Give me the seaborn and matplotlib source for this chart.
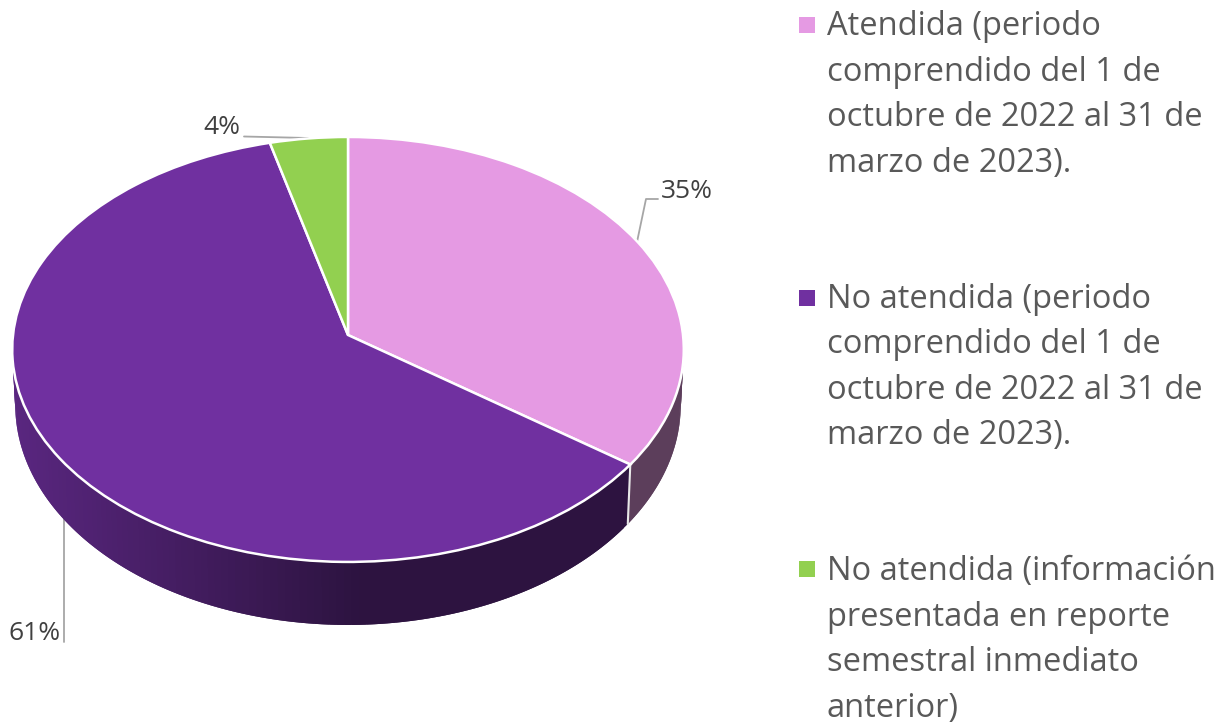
#!/usr/bin/env python
# coding: utf-8

# 3D looking pie: ax.pie for the top, quads for the rim, everything pushed through a small perspective transform
import numpy as np
import seaborn as sns
import matplotlib
matplotlib.use('Agg')
import matplotlib.pyplot as plt
from matplotlib.collections import PolyCollection
from matplotlib.transforms import Transform

# Data
values = [35, 61, 4]
pct_labels = ['35%', '61%', '4%']
legend_labels = [
    'Atendida (periodo\ncomprendido del 1 de\noctubre de 2022 al 31 de\nmarzo de 2023).',
    'No atendida (periodo\ncomprendido del 1 de\noctubre de 2022 al 31 de\nmarzo de 2023).',
    'No atendida (información\npresentada en reporte\nsemestral inmediato\nanterior)',
]
colors = ['#E59AE3', '#7030A0', '#92D050']

sns.set_theme(style='white')
plt.rcParams['font.family'] = ['Open Sans', 'DejaVu Sans']
palette = sns.color_palette(colors)

fig = plt.figure(figsize=(12.3, 7.24), dpi=100)
ax = fig.add_axes([0, 0, 1, 1])


# unit circle -> pixel position, top of the pie and bottom rim use different numbers
class Perspective(Transform):
    input_dims = 2
    output_dims = 2
    is_affine = False
    has_inverse = False

    def __init__(self, b, a, y0, k=0.068, x0=348):
        super().__init__()
        self.b, self.a, self.y0, self.k, self.x0 = b, a, y0, k, x0

    def transform_non_affine(self, values):
        values = np.asarray(values, dtype=float)
        w = 1 + self.k * values[:, 1]
        return np.column_stack([self.x0 + self.b * values[:, 0] / w, self.y0 - self.a * values[:, 1] / w])


top = Perspective(335, 211.5, 335)
bottom = Perspective(332, 219, 390)


def shade(x):
    # rim gets lighter towards the left side of the pie
    return 0.4 + 0.4 * np.clip((360 - x) / 348, 0, 1)


# Top of the pie
wedges, _ = ax.pie(values, colors=palette, startangle=90, counterclock=False,
                   wedgeprops={'edgecolor': 'white', 'linewidth': 1.8, 'zorder': 5})
for w in wedges:
    w.set_transform(top + ax.transData)

ax.set_aspect('auto')
ax.set_xlim(0, 1230)
ax.set_ylim(724, 0)
ax.set_axis_off()

# Rim of the pie, quads overlap their neighbour so no white shows between them
edges = np.cumsum([0] + values) / sum(values) * 2 * np.pi
for i in range(len(values)):
    ang = np.linspace(edges[i], edges[i + 1], int(values[i] * 3) + 3)
    unit = np.column_stack([np.sin(ang), np.cos(ang)])
    up = top.transform_non_affine(unit)
    low = bottom.transform_non_affine(unit)
    polys = []
    cols = []
    for j in range(len(ang) - 1):
        k = min(j + 2, len(ang) - 1)
        polys.append([up[j], up[k], low[k], low[j]])
        f = shade((up[j, 0] + up[j + 1, 0]) / 2)
        cols.append(tuple(np.array(palette[i]) * f))
    ax.add_collection(PolyCollection(polys, facecolors=cols, edgecolors='none', zorder=3))
    # white line where two slices meet on the rim
    if np.cos(edges[i + 1]) < 0 and i < len(values) - 1:
        ax.plot([up[-1, 0], low[-1, 0]], [up[-1, 1], low[-1, 1]], color='#E8E8E8', lw=1.5, zorder=4)

# Leader lines
ax.plot([637, 646, 658], [242, 199, 199], color='#A6A6A6', lw=1.3, zorder=2)
ax.plot([63.5, 63.5], [515, 642], color='#A6A6A6', lw=1.3, zorder=2)
ax.plot([244, 308], [136.5, 138], color='#A6A6A6', lw=1.3, zorder=2)

# Percent labels
ax.text(687, 192, pct_labels[0], fontsize=19, color='#404040', ha='center', va='center')
ax.text(35, 633, pct_labels[1], fontsize=19, color='#404040', ha='center', va='center')
ax.text(222, 128, pct_labels[2], fontsize=19, color='#404040', ha='center', va='center')

# Legend on the right
legend_y = [95, 367.5, 640]
marker_y = [24.5, 297.5, 569]
for i in range(len(values)):
    ax.scatter(807, marker_y[i], marker='s', s=133, color=palette[i], linewidths=0, zorder=5)
    ax.text(827, legend_y[i], legend_labels[i], fontsize=23.5, color='#595959', ha='left', va='center',
            linespacing=1.5)

fig.savefig('out.png', dpi=100)
